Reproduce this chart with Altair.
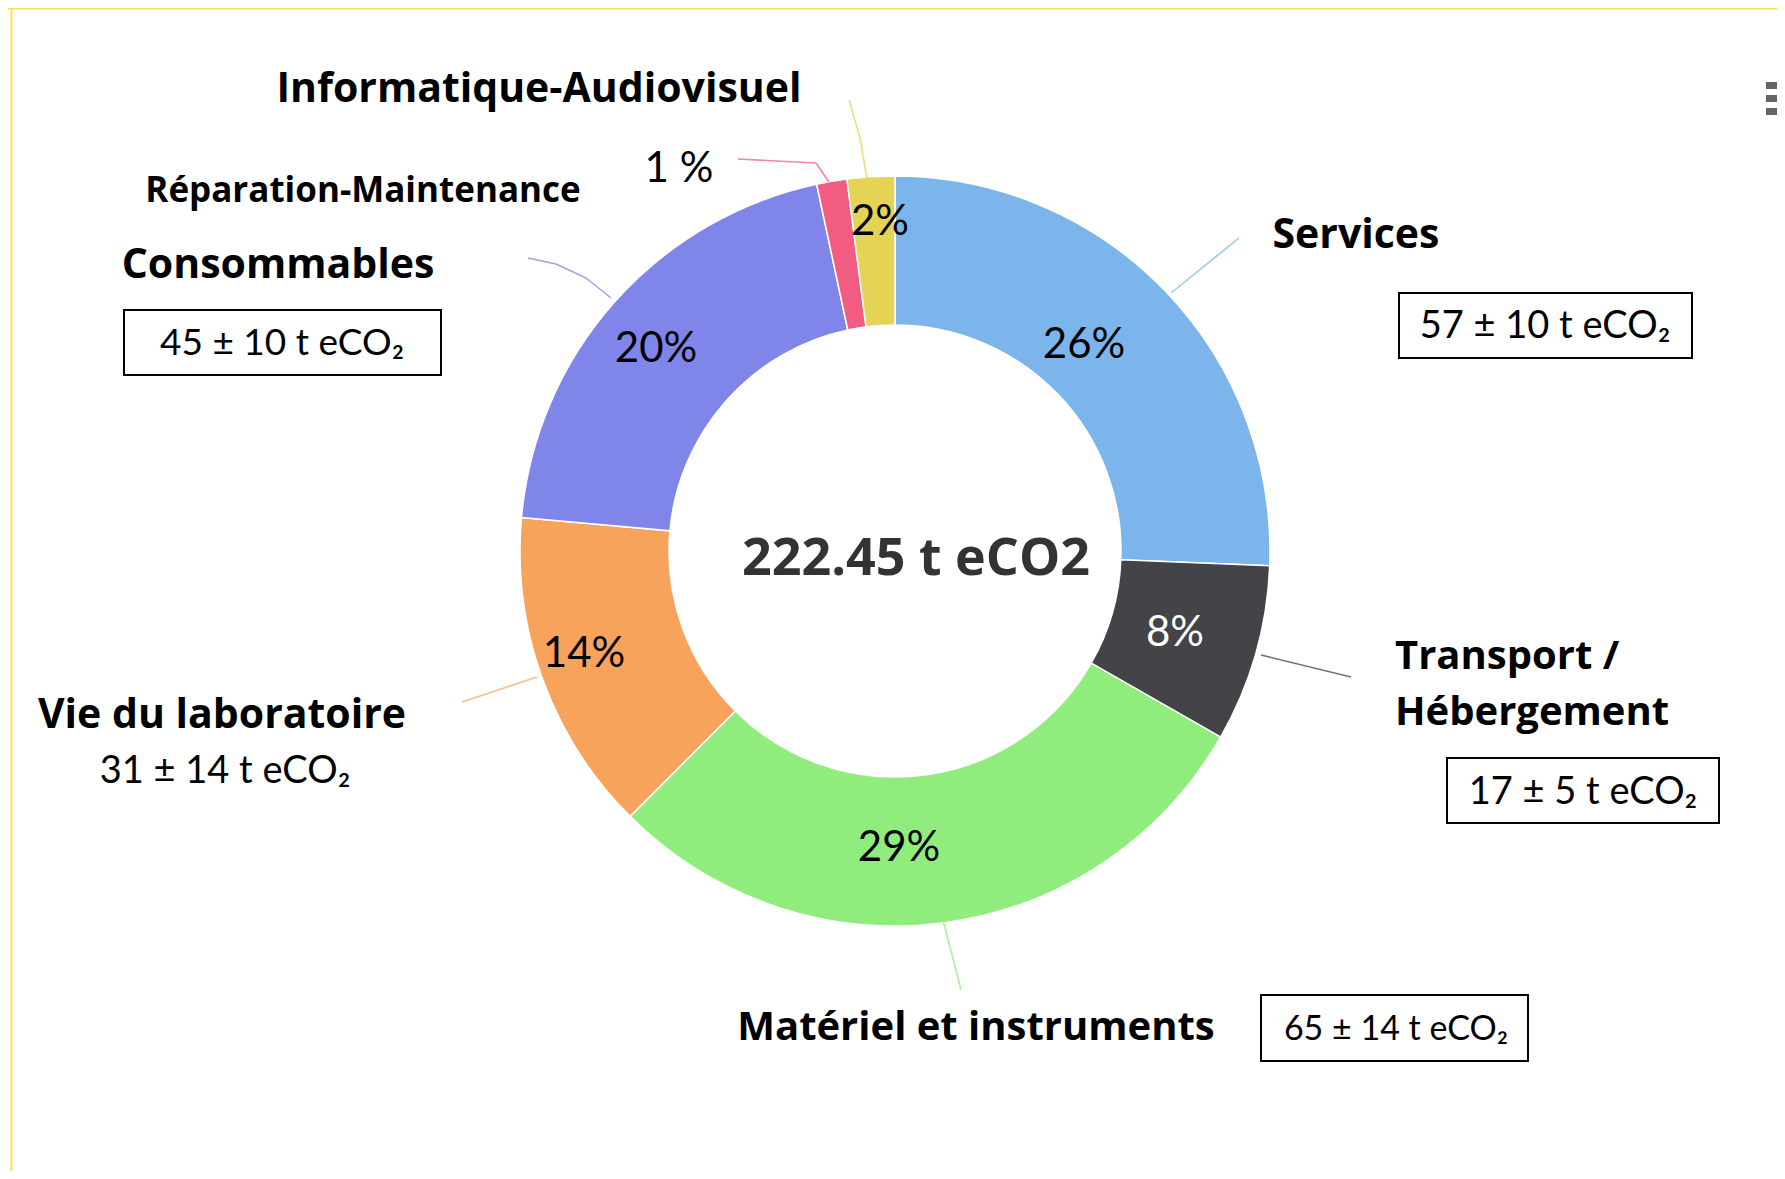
import altair as alt
import pandas as pd

# ---------------- data ----------------
categories = ["Services", "Transport / Hébergement", "Matériel et instruments",
              "Vie du laboratoire", "Consommables", "Réparation-Maintenance",
              "Informatique-Audiovisuel"]
values = [57, 17, 65, 31, 45, 2.9, 4.55]          # t eCO2
pct_labels = ["26%", "8%", "29%", "14%", "20%", "1 %", "2%"]
colors = ["#7cb5ec", "#434348", "#90ed7d", "#f7a35c", "#8085e9", "#f15c80", "#e4d354"]
uncert = {"Services": "57 ± 10 t eCO₂", "Transport": "17 ± 5 t eCO₂",
          "Materiel": "65 ± 14 t eCO₂", "Vie": "31 ± 14 t eCO₂",
          "Conso": "45 ± 10 t eCO₂"}

total = sum(values)
df = pd.DataFrame({"cat": categories, "value": values, "idx": list(range(len(categories)))})

# ---------------- layout ----------------
W, H = 1769, 1163
CX, CY = 887, 543
R_IN, R_OUT = 226, 375
FONT = "Lato"
HFONT = "Open Sans"

donut = alt.Chart(df).mark_arc(innerRadius=R_IN, outerRadius=R_OUT, stroke="white", strokeWidth=1.5).encode(
    theta=alt.Theta("value:Q", stack=True),
    order=alt.Order("idx:Q"),
    color=alt.Color("cat:N", scale=alt.Scale(domain=categories, range=colors), legend=None),
    x=alt.value(CX), y=alt.value(CY),
)

one = alt.Data(values=[{}])
layers = []

def rule(x1, y1, x2, y2, color, w=1.5, op=1.0):
    return alt.Chart(one).mark_rule(color=color, strokeWidth=w, opacity=op).encode(
        x=alt.value(x1), y=alt.value(y1), x2=alt.value(x2), y2=alt.value(y2))

# frame
layers.append(rule(0, 0.5, W, 0.5, "#fbe04a", 2))
layers.append(rule(3.5, 0, 3.5, H, "#fbe04a", 2))

# connector lines
conn = [
    (841, 92, 852, 130, "#e4d354"), (852, 130, 859, 171, "#e4d354"),
    (730, 151, 808, 155, "#f15c80"), (808, 155, 821, 174, "#f15c80"),
    (520, 250, 548, 256, "#8085e9"), (548, 256, 578, 270, "#8085e9"), (578, 270, 603, 290, "#8085e9"),
    (1231, 230, 1163, 285, "#7cb5ec"),
    (1253, 647, 1343, 669, "#434348"),
    (935, 912, 953, 982, "#90ed7d"),
    (529, 669, 454, 694, "#f7a35c"),
]
for x1, y1, x2, y2, c in conn:
    layers.append(rule(x1, y1, x2, y2, c, 1.6, 0.75))

# boxes
boxes = [(116, 302, 433, 367), (1391, 285, 1684, 350), (1439, 750, 1711, 815), (1253, 987, 1520, 1053)]
for x1, y1, x2, y2 in boxes:
    layers.append(alt.Chart(one).mark_rect(fill="white", stroke="black", strokeWidth=2).encode(
        x=alt.value(x1), y=alt.value(y1), x2=alt.value(x2), y2=alt.value(y2)))

# hamburger icon
for y1 in (74, 87, 100):
    layers.append(alt.Chart(one).mark_rect(fill="#666666").encode(
        x=alt.value(1758), x2=alt.value(1769), y=alt.value(y1), y2=alt.value(y1 + 7)))

def txt(s, x, y, size, weight="normal", align="center", color="black", font=FONT):
    return alt.Chart(one).mark_text(text=s, font=font, fontSize=size, fontWeight=weight,
                                    align=align, baseline="alphabetic", color=color).encode(
        x=alt.value(x), y=alt.value(y))

# percentage labels (positions as placed on the original figure)
pct_pos = [(1076, 350), (1167, 638), (891, 853), (576, 659), (648, 354), (671, 174), (872, 227)]
pct_col = ["black", "white", "black", "black", "black", "black", "black"]
for s, (x, y), c in zip(pct_labels, pct_pos, pct_col):
    layers.append(txt(s, x, y, 42, color=c))

layers += [
    txt("Informatique-Audiovisuel", 531, 94, 41, "bold", font=HFONT),
    txt("Réparation-Maintenance", 355, 194, 35, "bold", font=HFONT),
    txt("Consommables", 270, 270, 41, "bold", font=HFONT),
    txt(uncert["Conso"], 274, 347, 37),
    txt("Services", 1348, 240, 41, "bold", font=HFONT),
    txt(uncert["Services"], 1537, 330, 38),
    txt("Transport /", 1387, 661, 40, "bold", "left", font=HFONT),
    txt("Hébergement", 1387, 717, 40, "bold", "left", font=HFONT),
    txt(uncert["Transport"], 1575, 796, 38),
    txt("Matériel et instruments", 968, 1032, 40, "bold", font=HFONT),
    txt(uncert["Materiel"], 1388, 1032, 34),
    txt("Vie du laboratoire", 214, 720, 41, "bold", font=HFONT),
    txt(uncert["Vie"], 217, 775, 38),
    txt(f"{total:.2f} t eCO2", 908, 567, 52, "bold", "center", "#333333", "Open Sans"),
]

chart = alt.layer(donut, *layers).properties(
    width=W, height=H,
    autosize=alt.AutoSizeParams(type="none"),
    padding=0,
).configure_view(stroke=None)

chart.save("out.html", embed_options={"renderer": "svg", "actions": False})
